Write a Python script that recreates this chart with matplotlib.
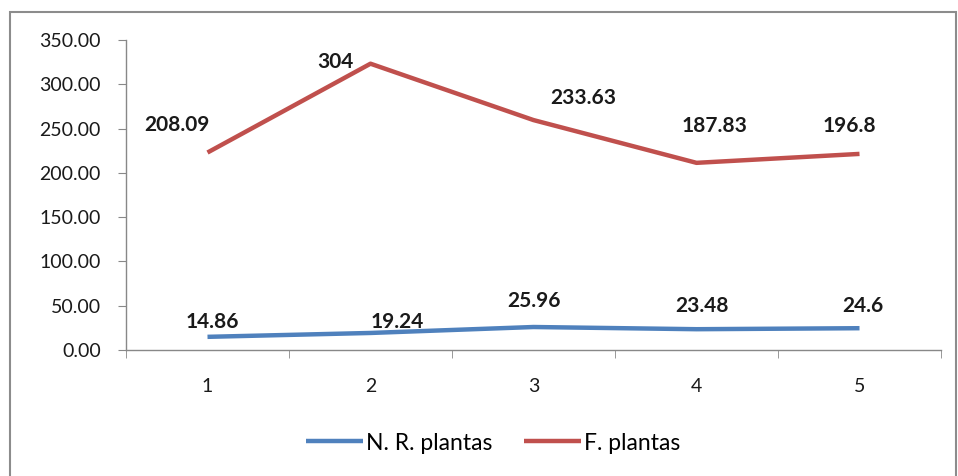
import matplotlib.pyplot as plt
from matplotlib.patches import Rectangle
from matplotlib.ticker import FormatStrFormatter
import numpy as np

categories = [1, 2, 3, 4, 5]
nr_plantas = [14.86, 19.24, 25.96, 23.48, 24.6]
f_plantas = [208.09, 304, 233.63, 187.83, 196.8]
nr_labels = ["14.86", "19.24", "25.96", "23.48", "24.6"]
f_labels = ["208.09", "304", "233.63", "187.83", "196.8"]

# label offsets in pixels (dx, dy), as placed in the original
nr_offsets = [(5, 15), (27, 11), (0, 26), (5, 23), (3, 22)]
f_offsets = [(-31, 28), (-35, 2), (50, 22), (18, 37), (-10, 28)]

blue = '#4F81BD'
red = '#C0504D'

plt.rcParams['font.family'] = ['Lato', 'DejaVu Sans']

W, H = 958, 476
fig = plt.figure(figsize=(W / 100, H / 100), dpi=100)
ax = fig.add_axes([126 / W, 126 / H, (941 - 126) / W, 310 / H])

x = np.array(categories)
# stacked line chart: F. plantas is drawn on top of N. R. plantas
stacked = np.array(nr_plantas) + np.array(f_plantas)

ax.plot(x, nr_plantas, color=blue, lw=3.2, solid_capstyle='butt', label='N. R. plantas')
ax.plot(x, stacked, color=red, lw=3.2, solid_capstyle='butt', label='F. plantas')

for xi, yi, lab, off in zip(x, nr_plantas, nr_labels, nr_offsets):
    ax.annotate(lab, (xi, yi), xytext=(off[0] * 0.72, off[1] * 0.72), textcoords='offset points',
                ha='center', va='center', fontsize=15, fontweight='bold', color='#1a1a1a')
for xi, yi, lab, off in zip(x, stacked, f_labels, f_offsets):
    ax.annotate(lab, (xi, yi), xytext=(off[0] * 0.72, off[1] * 0.72), textcoords='offset points',
                ha='center', va='center', fontsize=15, fontweight='bold', color='#1a1a1a')

ax.set_xlim(0.5, 5.5)
ax.set_ylim(0, 350)
ax.set_yticks(np.arange(0, 351, 50))
ax.yaxis.set_major_formatter(FormatStrFormatter('%.2f'))
ax.set_xticks(categories)
ax.set_xticks(np.arange(0.5, 5.6, 1), minor=True)
ax.tick_params(axis='x', which='major', length=0, pad=20, labelsize=14, colors='#1a1a1a')
ax.tick_params(axis='x', which='minor', length=6, direction='out', color='#888888')
ax.tick_params(axis='y', length=6, direction='out', color='#888888', pad=12, labelsize=14,
               labelcolor='#1a1a1a')

for s in ['top', 'right']:
    ax.spines[s].set_visible(False)
for s in ['left', 'bottom']:
    ax.spines[s].set_color('#888888')
    ax.spines[s].set_linewidth(1.0)

leg = fig.legend(loc='center', bbox_to_anchor=(493 / W, 1 - 443 / H), ncol=2, frameon=False,
                 fontsize=16.5, handlelength=2.5, handletextpad=0.1, columnspacing=1.4)

fig.patches.append(Rectangle((10 / W, -0.05), (956 - 10) / W, (H - 12) / H + 0.05,
                             transform=fig.transFigure, fill=False, edgecolor='#8c8c8c', lw=1.5))

fig.savefig('out.png', dpi=100)
